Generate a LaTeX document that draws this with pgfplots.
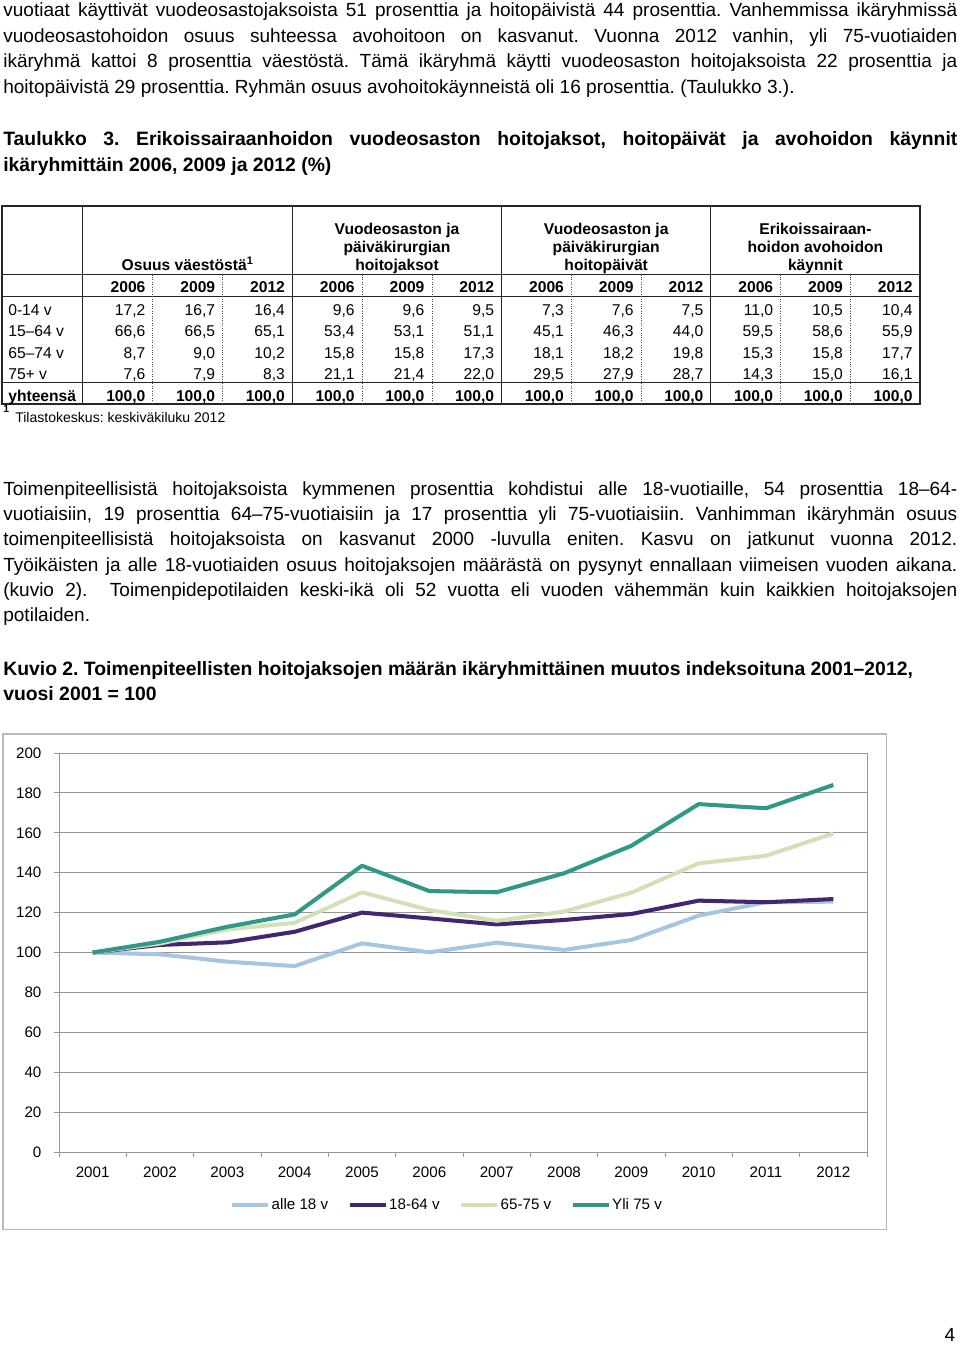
\documentclass[border=0pt]{standalone}
\usepackage{fontspec}
\setmainfont{Liberation Sans}
\usepackage{pgfplots}
\pgfplotsset{compat=1.18}
\frenchspacing

\definecolor{cAlle}{RGB}{166,198,224}
\definecolor{cTyo}{RGB}{66,38,112}
\definecolor{cVanha}{RGB}{210,224,184}
\definecolor{cYli}{RGB}{48,152,134}
\definecolor{gridc}{RGB}{150,150,150}

% 1px of the page = 0.62pt
\newlength\tw \setlength\tw{591.48pt}
\newcommand\jl[2]{\node[anchor=base west,inner sep=0pt] at (3,#1) {\makebox[\tw][s]{#2}};}
\newcommand\rl[2]{\node[anchor=base west,inner sep=0pt] at (3,#1) {#2};}
\newcommand\trow[3]{%
  \node[anchor=base west,inner sep=0pt] at (8,#1) {#2};
  \foreach \v [count=\k] in {#3}
    \node[anchor=base east,inner sep=0pt] at ({83+69.75*\k-7},#1) {\v};}
\newcommand\tf{\fontsize{9.7}{11}\selectfont}

\begin{document}
\begin{tikzpicture}
\begin{scope}[x=0.62pt,y=-0.62pt]
\useasboundingbox (0,0) rectangle (960,1345);

% --- body text
\begin{scope}[font=\fontsize{11.8}{14}\selectfont]
\jl{16.7}{vuotiaat käyttivät vuodeosastojaksoista 51 prosenttia ja hoitopäivistä 44 prosenttia. Vanhemmissa ikäryhmissä}
\jl{42.3}{vuodeosastohoidon osuus suhteessa avohoitoon on kasvanut. Vuonna 2012 vanhin, yli 75-vuotiaiden}
\jl{67.8}{ikäryhmä kattoi 8 prosenttia väestöstä. Tämä ikäryhmä käytti vuodeosaston hoitojaksoista 22 prosenttia ja}
\rl{93.3}{hoitopäivistä 29 prosenttia. Ryhmän osuus avohoitokäynneistä oli 16 prosenttia. (Taulukko 3.).}

\jl{145.5}{\fontsize{12}{14}\selectfont\bfseries Taulukko 3. Erikoissairaanhoidon vuodeosaston hoitojaksot, hoitopäivät ja avohoidon käynnit}
\rl{171}{\fontsize{12}{14}\selectfont\bfseries ikäryhmittäin 2006, 2009 ja 2012 (\%)}

\jl{495}{Toimenpiteellisistä hoitojaksoista kymmenen prosenttia kohdistui alle 18-vuotiaille, 54 prosenttia 18–64-}
\jl{520.3}{vuotiaisiin, 19 prosenttia 64–75-vuotiaisiin ja 17 prosenttia yli 75-vuotiaisiin. Vanhimman ikäryhmän osuus}
\jl{545.6}{toimenpiteellisistä hoitojaksoista on kasvanut 2000 -luvulla eniten. Kasvu on jatkunut vuonna 2012.}
\jl{571}{Työikäisten ja alle 18-vuotiaiden osuus hoitojaksojen määrästä on pysynyt ennallaan viimeisen vuoden aikana.}
\jl{596.3}{(kuvio 2).\ \ Toimenpidepotilaiden keski-ikä oli 52 vuotta eli vuoden vähemmän kuin kaikkien hoitojaksojen}
\rl{621.7}{potilaiden.}

\rl{675}{\fontsize{12}{14}\selectfont\bfseries Kuvio 2. Toimenpiteellisten hoitojaksojen määrän ikäryhmittäinen muutos indeksoituna 2001–2012,}
\rl{700.5}{\fontsize{12}{14}\selectfont\bfseries vuosi 2001 = 100}

\node[anchor=base,inner sep=0pt] at (950,1341) {4};
\end{scope}

% --- table
\begin{scope}[font=\tf]
\draw[black!85,line width=0.85pt] (2,206) rectangle (920,404);
\foreach \yy in {274.5,296.7,382.7} \draw[black!85,line width=0.85pt] (2,\yy) -- (920,\yy);
\foreach \xx in {82.7,292.3,501.7,710.7} \draw[black!85,line width=0.85pt] (\xx,206) -- (\xx,404);
\foreach \xx in {152.7,222.3,362.3,432.3,571.7,641.3,780.7,850.7}
  \draw[black!70,line width=0.5pt,densely dotted] (\xx,274.5) -- (\xx,404);

\begin{scope}[every node/.style={anchor=base,inner sep=0pt,font=\tf\bfseries}]
\node at (187.7,270.7) {Osuus väestöstä\textsuperscript{1}};
\node at (397,234.3) {Vuodeosaston ja};
\node at (397,252.5) {päiväkirurgian};
\node at (397,270.7) {hoitojaksot};
\node at (606.2,234.3) {Vuodeosaston ja};
\node at (606.2,252.5) {päiväkirurgian};
\node at (606.2,270.7) {hoitopäivät};
\node at (815.4,234.3) {Erikoissairaan-};
\node at (815.4,252.5) {hoidon avohoidon};
\node at (815.4,270.7) {käynnit};
\end{scope}

\foreach \k in {1,...,12} {
  \pgfmathtruncatemacro\yr{mod(\k-1,3)==0 ? 2006 : (mod(\k-1,3)==1 ? 2009 : 2012)}
  \node[anchor=base east,inner sep=0pt,font=\tf\bfseries] at ({83+69.75*\k-7},292.3) {\yr};
}
\trow{315}{0-14 v}{17{,}2,16{,}7,16{,}4,9{,}6,9{,}6,9{,}5,7{,}3,7{,}6,7{,}5,11{,}0,10{,}5,10{,}4}
\trow{336.5}{15–64 v}{66{,}6,66{,}5,65{,}1,53{,}4,53{,}1,51{,}1,45{,}1,46{,}3,44{,}0,59{,}5,58{,}6,55{,}9}
\trow{358}{65–74 v}{8{,}7,9{,}0,10{,}2,15{,}8,15{,}8,17{,}3,18{,}1,18{,}2,19{,}8,15{,}3,15{,}8,17{,}7}
\trow{379.3}{75+ v}{7{,}6,7{,}9,8{,}3,21{,}1,21{,}4,22{,}0,29{,}5,27{,}9,28{,}7,14{,}3,15{,}0,16{,}1}
\begin{scope}[font=\tf\bfseries]
\trow{401}{yhteensä}{100{,}0,100{,}0,100{,}0,100{,}0,100{,}0,100{,}0,100{,}0,100{,}0,100{,}0,100{,}0,100{,}0,100{,}0}
\end{scope}
\node[anchor=base west,inner sep=0pt,font=\fontsize{6.5}{7}\selectfont\bfseries] at (3,412.5) {1};
\node[anchor=base west,inner sep=0pt,font=\fontsize{8.7}{10}\selectfont] at (15,422.7) {Tilastokeskus: keskiväkiluku 2012};
\end{scope}

% --- chart frame
\draw[gray!55,line width=0.95pt] (3,734) rectangle (886.5,1229.5);
\end{scope}

\begin{axis}[
  at={(59*0.62pt,-1152*0.62pt)}, anchor=south west,
  scale only axis, width=808*0.62pt, height=399*0.62pt,
  xmin=0.5, xmax=12.5, ymin=0, ymax=200,
  xtick={0.5,1.5,...,12.5},
  xticklabels={2001,2002,2003,2004,2005,2006,2007,2008,2009,2010,2011,2012},
  x tick label as interval,
  ytick={0,20,...,200},
  ymajorgrids, grid style={gridc,line width=0.6pt},
  axis line style={gridc,line width=0.6pt},
  tick style={gridc,line width=0.6pt},
  tick align=outside, tick pos=left,
  major tick length=3.1pt,
  /pgf/number format/assume math mode=true,
  ticklabel style={font=\fontsize{9.4}{10}\selectfont},
  xticklabel style={yshift=-2.5pt},
  yticklabel style={xshift=-4.3pt},
  legend columns=4,
  legend style={draw=none, fill=none, at={(0.480,-0.1328)}, anchor=center,
    font=\fontsize{9.4}{10}\selectfont, inner sep=0pt,
    nodes={inner sep=0.8pt},
    /tikz/every even column/.append style={column sep=11.4pt}},
  legend image code/.code={\draw[#1] (0pt,0pt) -- (22.3pt,0pt);},
  every axis plot/.append style={line width=2.5pt, line join=round, mark=none},
]
\addplot[color=cAlle] coordinates {(1,100)(2,99.1)(3,95.4)(4,93.2)(5,104.6)(6,100.1)(7,104.9)(8,101.3)(9,106.3)(10,118.5)(11,125.2)(12,125.5)};
\addlegendentry{alle 18 v}
\addplot[color=cTyo] coordinates {(1,100)(2,103.8)(3,105.1)(4,110.4)(5,120.0)(6,117.1)(7,114.1)(8,116.3)(9,119.3)(10,126.0)(11,125.2)(12,126.8)};
\addlegendentry{18-64 v}
\addplot[color=cVanha] coordinates {(1,100)(2,104.5)(3,111.6)(4,114.9)(5,130.2)(6,121.3)(7,115.9)(8,120.5)(9,130.0)(10,144.7)(11,148.5)(12,159.7)};
\addlegendentry{65-75 v}
\addplot[color=cYli] coordinates {(1,100)(2,105.4)(3,112.9)(4,119.1)(5,143.5)(6,130.8)(7,130.2)(8,139.7)(9,153.5)(10,174.4)(11,172.3)(12,184.0)};
\addlegendentry{Yli 75 v}
\end{axis}
\end{tikzpicture}
\end{document}
